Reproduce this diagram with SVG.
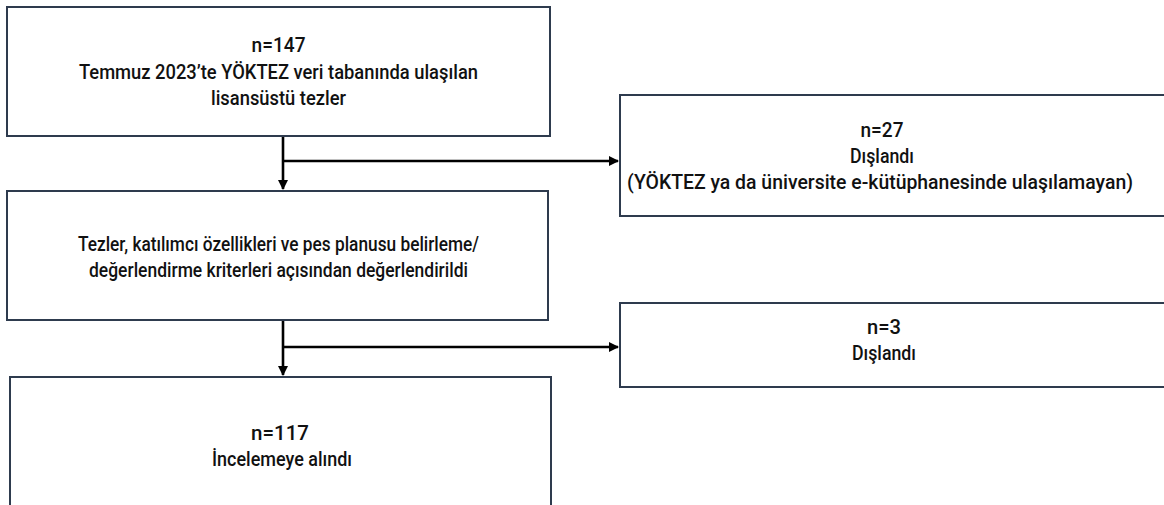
<svg xmlns="http://www.w3.org/2000/svg" width="1164" height="505" viewBox="0 0 1164 505">
<style>
.box{fill:#ffffff;stroke:#2e3b4e;stroke-width:2}
.t{font-family:Roboto,"Liberation Sans",Arial,sans-serif;font-size:20px;font-weight:500;fill:#111111;text-anchor:middle}
.ln{fill:none;stroke:#000000;stroke-width:2.6}
</style>
<defs>
<marker id="ah" markerWidth="12" markerHeight="12" refX="9" refY="5" orient="auto" markerUnits="userSpaceOnUse">
<path d="M0,0 L10,5 L0,10 Z" fill="#000000"/>
</marker>
</defs>
<rect width="1164" height="505" fill="#ffffff"/>
<g id="connectors">
<line class="ln" x1="283" y1="136" x2="283" y2="189" marker-end="url(#ah)"/>
<line class="ln" x1="283" y1="161" x2="618" y2="161" marker-end="url(#ah)"/>
<line class="ln" x1="283" y1="320" x2="283" y2="375" marker-end="url(#ah)"/>
<line class="ln" x1="283" y1="347" x2="618" y2="347" marker-end="url(#ah)"/>
</g>
<g id="node1">
<rect class="box" x="7" y="7" width="543" height="129"/>
<text class="t" x="278.5" y="52" textLength="54" lengthAdjust="spacingAndGlyphs">n=147</text>
<text class="t" x="278.5" y="79" textLength="399" lengthAdjust="spacingAndGlyphs">Temmuz 2023’te YÖKTEZ veri tabanında ulaşılan</text>
<text class="t" x="278.5" y="105" textLength="135" lengthAdjust="spacingAndGlyphs">lisansüstü tezler</text>
</g>
<g id="node2">
<rect class="box" x="620" y="95" width="560" height="121"/>
<text class="t" x="882" y="137" textLength="43" lengthAdjust="spacingAndGlyphs">n=27</text>
<text class="t" x="882" y="163" textLength="64" lengthAdjust="spacingAndGlyphs">Dışlandı</text>
<text class="t" x="880" y="189" textLength="506" lengthAdjust="spacingAndGlyphs">(YÖKTEZ ya da üniversite e-kütüphanesinde ulaşılamayan)</text>
</g>
<g id="node3">
<rect class="box" x="7" y="191" width="541" height="129"/>
<text class="t" x="278.5" y="251" textLength="401" lengthAdjust="spacingAndGlyphs">Tezler, katılımcı özellikleri ve pes planusu belirleme/</text>
<text class="t" x="278.5" y="277" textLength="379" lengthAdjust="spacingAndGlyphs">değerlendirme kriterleri açısından değerlendirildi</text>
</g>
<g id="node4">
<rect class="box" x="620" y="303" width="560" height="84"/>
<text class="t" x="884" y="334" textLength="34" lengthAdjust="spacingAndGlyphs">n=3</text>
<text class="t" x="884" y="360" textLength="64" lengthAdjust="spacingAndGlyphs">Dışlandı</text>
</g>
<g id="node5">
<rect class="box" x="10" y="377" width="541" height="140"/>
<text class="t" x="280" y="440" textLength="58" lengthAdjust="spacingAndGlyphs">n=117</text>
<text class="t" x="282" y="466" textLength="140" lengthAdjust="spacingAndGlyphs">İncelemeye alındı</text>
</g>
</svg>
